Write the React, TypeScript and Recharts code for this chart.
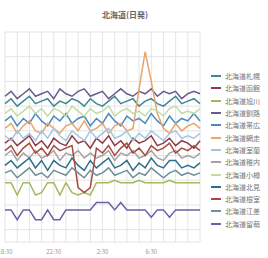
import React from 'react';
import { LineChart, Line, XAxis, YAxis, CartesianGrid } from 'recharts';

// hours since 18:30, half-hour samples
const hours = [0, 0.5, 1, 1.5, 2, 2.5, 3, 3.5, 4, 4.5, 5, 5.5, 6, 6.5, 7, 7.5, 8, 8.5, 9, 9.5, 10, 10.5, 11, 11.5, 12, 12.5, 13, 13.5, 14, 14.5, 15, 15.5, 16];
const hourTicks = [0, 1, 2, 3, 4, 5, 6, 7, 8, 9, 10, 11, 12, 13, 14, 15, 16];
const tickLabels: Record<number, string> = { 0: '18:30', 4: '22:30', 8: '2:30', 12: '6:30' };
const valueTicks = [0, 5, 10, 15, 20, 25, 30, 35, 40, 45, 50, 55, 60, 65, 70, 75, 80, 85];

const names = ['北海道札幌', '北海道函館', '北海道旭川', '北海道釧路', '北海道帯広', '北海道網走', '北海道室蘭', '北海道稚内', '北海道小樽', '北海道北見', '北海道根室', '北海道江差', '北海道留萌'];
const colors = ['#3f8796', '#8e3b46', '#a6b85e', '#6d5a8e', '#4b8bbe', '#e8a56a', '#a3c6e3', '#a3a3a3', '#c2dca4', '#2f6e8a', '#a84a3e', '#6f8f98', '#6a5fa8'];

const sapporo = [56, 58, 55, 57, 59, 56, 57, 58, 55, 57, 56, 58, 57, 55, 58, 56, 55, 57, 59, 56, 57, 58, 55, 57, 58, 56, 55, 57, 59, 56, 57, 58, 56];
const hakodate = [40, 42, 39, 41, 43, 39, 41, 38, 42, 40, 39, 43, 40, 41, 38, 42, 40, 43, 39, 41, 38, 42, 40, 41, 43, 39, 40, 42, 39, 41, 40, 38, 41];
const asahikawa = [24, 24, 19, 24, 24, 19, 20, 24, 24, 19, 24, 20, 19, 20, 19, 24, 24, 24, 25, 24, 24, 24, 25, 24, 24, 24, 24, 25, 24, 24, 24, 24, 24];
const kushiro = [59, 61, 58, 60, 62, 59, 60, 61, 58, 62, 60, 59, 61, 62, 59, 60, 61, 58, 60, 62, 60, 59, 61, 60, 62, 59, 61, 60, 61, 58, 60, 61, 60];
const obihiro = [49, 51, 47, 50, 48, 52, 49, 47, 51, 49, 52, 48, 50, 51, 47, 50, 48, 52, 49, 47, 51, 49, 50, 48, 52, 49, 47, 51, 48, 50, 49, 52, 49];
const abashiri = [46, 48, 44, 47, 49, 45, 44, 48, 46, 44, 47, 48, 45, 49, 45, 46, 48, 44, 47, 48, 45, 46, 62, 77, 65, 52, 46, 44, 48, 45, 47, 48, 46];
const muroran = [43, 41, 45, 42, 44, 41, 45, 42, 46, 43, 41, 45, 43, 41, 45, 42, 44, 46, 42, 43, 45, 41, 44, 42, 45, 43, 41, 44, 45, 42, 43, 42, 44];
const wakkanai = [35, 37, 33, 36, 34, 37, 34, 35, 37, 33, 36, 35, 37, 34, 36, 34, 35, 37, 33, 36, 35, 37, 34, 35, 37, 34, 33, 36, 37, 34, 35, 34, 36];
const otaru = [52, 54, 51, 53, 55, 52, 54, 51, 54, 53, 51, 55, 53, 51, 54, 52, 53, 55, 51, 53, 54, 52, 53, 51, 54, 53, 51, 54, 55, 52, 53, 52, 54];
const kitami = [31, 33, 30, 32, 34, 30, 33, 29, 33, 31, 30, 34, 31, 29, 33, 30, 32, 34, 30, 31, 33, 29, 32, 30, 34, 31, 30, 33, 33, 30, 31, 30, 32];
const nemuro = [37, 39, 35, 38, 40, 36, 38, 35, 39, 37, 38, 39, 22, 20, 22, 38, 36, 39, 35, 38, 40, 36, 38, 35, 39, 37, 38, 40, 36, 38, 37, 39, 37];
const esashi = [28, 29, 26, 28, 30, 27, 28, 26, 29, 28, 27, 30, 28, 26, 29, 27, 28, 30, 27, 28, 29, 26, 28, 27, 30, 28, 26, 28, 29, 27, 28, 27, 28];
const rumoi = [13, 13, 9, 13, 13, 9, 9, 13, 9, 9, 13, 13, 13, 13, 13, 16, 16, 16, 13, 16, 13, 13, 13, 13, 10, 13, 13, 10, 13, 13, 13, 13, 13];

const series = [sapporo, hakodate, asahikawa, kushiro, obihiro, abashiri, muroran, wakkanai, otaru, kitami, nemuro, esashi, rumoi];

const data = hours.map((t, i) => {
  const row: Record<string, number> = { t };
  names.forEach((n, k) => {
    row[n] = series[k][i];
  });
  return row;
});

export default function App() {
  return (
    <div style={{ position: 'absolute', left: 0, top: 0, width: 268, height: 258, fontFamily: '"Noto Sans CJK JP", sans-serif' }}>
      <div style={{ position: 'absolute', top: 9, left: 0, width: 250, textAlign: 'center', fontSize: 8, fontWeight: 'bold', color: '#666' }}>
        北海道(日発)
      </div>
      <LineChart width={268} height={258} data={data} margin={{ top: 32, right: 68, left: 5, bottom: 0 }}>
        <CartesianGrid stroke="#e4e4e4" />
        <XAxis
          dataKey="t"
          type="number"
          domain={[0, 16]}
          ticks={hourTicks}
          tickFormatter={(v: number) => tickLabels[v] ?? ''}
          tickLine={false}
          axisLine={false}
          height={16}
          tick={{ fontSize: 6, fill: '#999' }}
          interval={0}
        />
        <YAxis hide domain={[0, 85]} ticks={valueTicks} />
        {names.map((n, k) => (
          <Line key={n} type="linear" dataKey={n} stroke={colors[k]} strokeWidth={1.5} dot={false} isAnimationActive={false} />
        ))}
      </LineChart>
      <div style={{ position: 'absolute', left: 211, top: 70 }}>
        {names.map((n, k) => (
          <div key={n} style={{ display: 'flex', alignItems: 'center', height: 12.3 }}>
            <span style={{ width: 10, height: 2, background: colors[k], marginRight: 4 }} />
            <span style={{ fontSize: 7, color: '#777', whiteSpace: 'nowrap' }}>{n}</span>
          </div>
        ))}
      </div>
    </div>
  );
}
